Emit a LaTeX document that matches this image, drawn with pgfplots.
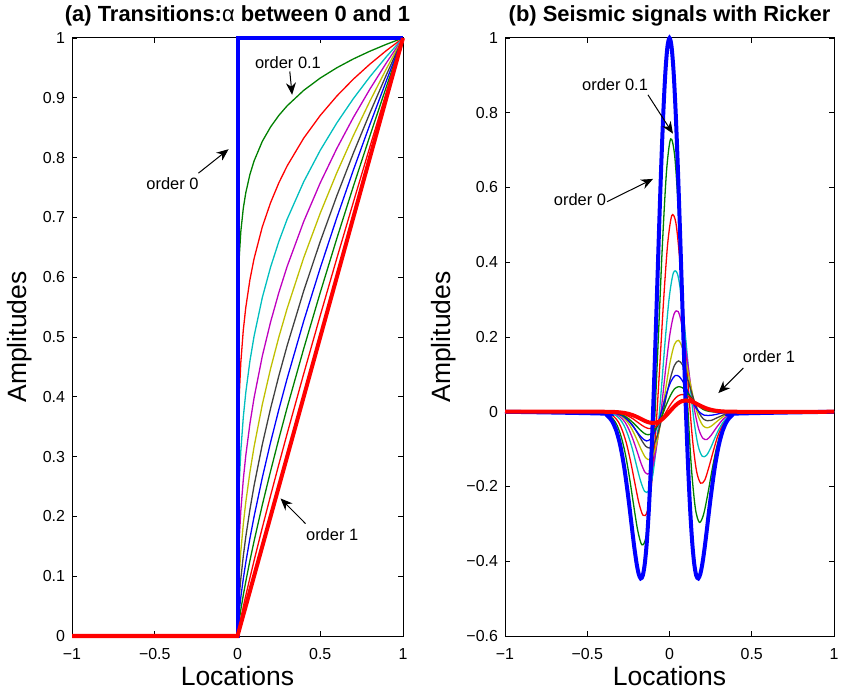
\documentclass[border=0pt]{standalone}
\usepackage{fontspec}
\setmainfont{Liberation Sans}
\usepackage{pgfplots}
\pgfplotsset{compat=1.18}
\usepackage{pgfplotstable}
\usetikzlibrary{arrows.meta}

\definecolor{mb}{rgb}{0,0,1}
\definecolor{mg}{rgb}{0,0.5,0}
\definecolor{mr}{rgb}{1,0,0}
\definecolor{mc}{rgb}{0,0.75,0.75}
\definecolor{mm}{rgb}{0.75,0,0.75}
\definecolor{my}{rgb}{0.75,0.75,0}
\definecolor{mk}{rgb}{0.25,0.25,0.25}

\pgfplotstableread{
x a1 a2 a3 a4 a5 a6 a7 a8 a9
-1 0 0 0 0 0 0 0 0 0
0 0 0 0 0 0 0 0 0 0
0.002 0.5372 0.2886 0.1550 0.0833 0.0447 0.0240 0.0129 0.0069 0.0037
0.005 0.5887 0.3466 0.2040 0.1201 0.0707 0.0416 0.0245 0.0144 0.0085
0.01 0.6310 0.3982 0.2513 0.1586 0.1000 0.0631 0.0398 0.0252 0.0158
0.02 0.6762 0.4573 0.3092 0.2091 0.1414 0.0956 0.0647 0.0437 0.0296
0.035 0.7152 0.5115 0.3658 0.2616 0.1871 0.1338 0.0957 0.0684 0.0489
0.05 0.7411 0.5492 0.4070 0.3016 0.2236 0.1657 0.1228 0.0910 0.0675
0.075 0.7718 0.5957 0.4598 0.3549 0.2739 0.2114 0.1632 0.1260 0.0972
0.1 0.7943 0.6309 0.5011 0.3980 0.3162 0.2512 0.1995 0.1584 0.1259
0.15 0.8272 0.6843 0.5661 0.4683 0.3873 0.3204 0.2650 0.2193 0.1813
0.2 0.8513 0.7247 0.6170 0.5252 0.4472 0.3807 0.3241 0.2758 0.2349
0.25 0.8706 0.7579 0.6598 0.5744 0.5000 0.4353 0.3789 0.3299 0.2872
0.3 0.8866 0.7861 0.6970 0.6180 0.5477 0.4856 0.4306 0.3819 0.3384
0.4 0.9124 0.8325 0.7596 0.6931 0.6325 0.5771 0.5266 0.4804 0.4384
0.5 0.9330 0.8705 0.8122 0.7578 0.7071 0.6597 0.6155 0.5743 0.5359
0.6 0.9502 0.9029 0.8579 0.8152 0.7746 0.7360 0.6994 0.6646 0.6314
0.7 0.9650 0.9312 0.8986 0.8671 0.8367 0.8074 0.7791 0.7519 0.7254
0.8 0.9779 0.9563 0.9352 0.9145 0.8944 0.8746 0.8553 0.8363 0.8181
0.9 0.9895 0.9791 0.9688 0.9586 0.9487 0.9387 0.9289 0.9189 0.9095
1 1 1 1 1 1 1 1 1 1
}\transtable

\tikzset{
  thn/.style={line width=0.65bp},
  thk/.style={line width=2bp},
  ann/.style={font=\fontsize{8.25}{10}\selectfont},
  ttl/.style={font=\bfseries\fontsize{11}{13}\selectfont, anchor=center},
  arr/.style={-{Stealth[length=6bp,width=5bp]}, line width=0.5bp, black},
}
\pgfplotsset{
  mlab/.style={
    scale only axis, height=299bp,
    xmin=-1, xmax=1,
    xtick={-1,-0.5,0,0.5,1},
    xticklabels={−1,−0.5,0,0.5,1},
    tick align=inside,
    major tick length=2.5bp,
    every tick/.style={black, line width=0.4bp},
    axis line style={line width=0.5bp},
    ticklabel style={font=\fontsize{8}{9.6}\selectfont},
    xticklabel style={yshift=-2.8bp},
    xlabel={Locations},
    ylabel={Amplitudes},
    label style={font=\fontsize{13.3}{16}\selectfont},
    xlabel style={at={(axis description cs:0.5,-0.0677)}, anchor=center},
    clip=false,
  },
}

\begin{document}
\begin{tikzpicture}
\path[use as bounding box] (-36bp,-29bp) rectangle (388.5bp,318bp);

% ---------------- (a) ----------------
\begin{axis}[mlab, at={(0,0)}, anchor=south west, width=165.5bp,
  ymin=0, ymax=1,
  ytick={0,0.1,0.2,0.3,0.4,0.5,0.6,0.7,0.8,0.9,1},
  yticklabels={0,0.1,0.2,0.3,0.4,0.5,0.6,0.7,0.8,0.9,1},
  ylabel style={at={(axis description cs:-0.157,0.5)}, anchor=center}]
\addplot[thn, mg] table[x=x, y=a1] {\transtable};
\addplot[thn, mr] table[x=x, y=a2] {\transtable};
\addplot[thn, mc] table[x=x, y=a3] {\transtable};
\addplot[thn, mm] table[x=x, y=a4] {\transtable};
\addplot[thn, my] table[x=x, y=a5] {\transtable};
\addplot[thn, mk] table[x=x, y=a6] {\transtable};
\addplot[thn, mb] table[x=x, y=a7] {\transtable};
\addplot[thn, mg] table[x=x, y=a8] {\transtable};
\addplot[thn, mr] table[x=x, y=a9] {\transtable};
\addplot[thk, mb] coordinates {(-1,0) (0,0) (0,1) (1,1)};
\addplot[thk, mr] coordinates {(-1,0) (0,0) (1,1)};
\node[ttl] at (axis description cs:0.5,1.0368) {(a) Transitions:{\mdseries α} between 0 and 1};
\node[ann] at (axis cs:0.305,0.958) {order 0.1};
\draw[arr] (axis cs:0.316,0.944) -- (axis cs:0.330,0.905);
\node[ann] at (axis cs:-0.393,0.757) {order 0};
\draw[arr] (axis cs:-0.236,0.774) -- (axis cs:-0.054,0.814);
\node[ann] at (axis cs:0.572,0.169) {order 1};
\draw[arr] (axis cs:0.411,0.188) -- (axis cs:0.260,0.230);
\end{axis}

% ---------------- (b) ----------------
\begin{axis}[mlab, at={(216.5bp,0)}, anchor=south west, width=164.5bp,
  ymin=-0.6, ymax=1,
  ytick={-0.6,-0.4,-0.2,0,0.2,0.4,0.6,0.8,1},
  yticklabels={−0.6,−0.4,−0.2,0,0.2,0.4,0.6,0.8,1},
  ylabel style={at={(axis description cs:-0.185,0.5)}, anchor=center}]
% order 0.1
\addplot[thn, mg, smooth] coordinates {(-1,0) (-0.393,-0.004) (-0.368,-0.009) (-0.343,-0.019) (-0.318,-0.037) (-0.293,-0.068) (-0.268,-0.114) (-0.243,-0.177) (-0.218,-0.250) (-0.193,-0.318) (-0.168,-0.356) (-0.143,-0.335) (-0.118,-0.233) (-0.093,-0.048) (-0.068,0.196) (-0.043,0.448) (-0.018,0.644) (0.007,0.730) (0.032,0.683) (0.057,0.518) (0.082,0.286) (0.107,0.048) (0.132,-0.143) (0.157,-0.258) (0.182,-0.296) (0.207,-0.275) (0.232,-0.222) (0.257,-0.160) (0.282,-0.104) (0.307,-0.062) (0.332,-0.034) (0.357,-0.017) (0.382,-0.008) (0.407,-0.004) (1,0)};
% order 0.2
\addplot[thn, mr, smooth] coordinates {(-1,0) (-0.386,-0.003) (-0.361,-0.006) (-0.336,-0.014) (-0.311,-0.027) (-0.286,-0.051) (-0.261,-0.086) (-0.236,-0.134) (-0.211,-0.190) (-0.186,-0.244) (-0.161,-0.277) (-0.136,-0.268) (-0.111,-0.200) (-0.086,-0.069) (-0.061,0.109) (-0.036,0.297) (-0.011,0.450) (0.014,0.525) (0.039,0.505) (0.064,0.398) (0.089,0.238) (0.114,0.069) (0.139,-0.070) (0.164,-0.158) (0.189,-0.191) (0.214,-0.183) (0.239,-0.149) (0.264,-0.109) (0.289,-0.071) (0.314,-0.043) (0.339,-0.024) (0.364,-0.012) (0.389,-0.006) (0.414,-0.002) (1,0)};
% order 0.3
\addplot[thn, mc, smooth] coordinates {(-1,0) (-0.376,-0.002) (-0.351,-0.005) (-0.326,-0.010) (-0.301,-0.020) (-0.276,-0.037) (-0.251,-0.064) (-0.226,-0.099) (-0.201,-0.143) (-0.176,-0.185) (-0.151,-0.213) (-0.126,-0.211) (-0.101,-0.167) (-0.076,-0.075) (-0.051,0.053) (-0.026,0.192) (-0.001,0.308) (0.024,0.372) (0.049,0.368) (0.074,0.301) (0.099,0.193) (0.124,0.075) (0.149,-0.025) (0.174,-0.091) (0.199,-0.119) (0.224,-0.117) (0.249,-0.098) (0.274,-0.072) (0.299,-0.048) (0.324,-0.029) (0.349,-0.016) (0.374,-0.008) (0.399,-0.004) (0.424,-0.002) (1,0)};
% order 0.4
\addplot[thn, mm, smooth] coordinates {(-1,0) (-0.372,-0.001) (-0.347,-0.003) (-0.322,-0.007) (-0.297,-0.015) (-0.272,-0.027) (-0.247,-0.047) (-0.222,-0.074) (-0.197,-0.106) (-0.172,-0.139) (-0.147,-0.163) (-0.122,-0.165) (-0.097,-0.137) (-0.072,-0.074) (-0.047,0.018) (-0.022,0.120) (0.003,0.209) (0.028,0.262) (0.053,0.268) (0.078,0.227) (0.103,0.155) (0.128,0.074) (0.153,0.002) (0.178,-0.047) (0.203,-0.071) (0.228,-0.074) (0.253,-0.063) (0.278,-0.047) (0.303,-0.032) (0.328,-0.019) (0.353,-0.011) (0.378,-0.006) (0.403,-0.003) (0.428,-0.001) (1,0)};
% order 0.5
\addplot[thn, my, smooth] coordinates {(-1,0) (-0.370,-0.001) (-0.345,-0.002) (-0.320,-0.005) (-0.295,-0.011) (-0.270,-0.020) (-0.245,-0.034) (-0.220,-0.054) (-0.195,-0.078) (-0.170,-0.103) (-0.145,-0.123) (-0.120,-0.128) (-0.095,-0.111) (-0.070,-0.068) (-0.045,-0.004) (-0.020,0.070) (0.005,0.136) (0.030,0.180) (0.055,0.191) (0.080,0.169) (0.105,0.123) (0.130,0.068) (0.155,0.018) (0.180,-0.018) (0.205,-0.038) (0.230,-0.043) (0.255,-0.038) (0.280,-0.029) (0.305,-0.020) (0.330,-0.012) (0.355,-0.007) (0.380,-0.004) (0.405,-0.002) (0.430,-0.001) (1,0)};
% order 0.6
\addplot[thn, mk, smooth] coordinates {(-1,0) (-0.370,-0.001) (-0.345,-0.002) (-0.320,-0.004) (-0.295,-0.008) (-0.270,-0.014) (-0.245,-0.025) (-0.220,-0.039) (-0.195,-0.057) (-0.170,-0.076) (-0.145,-0.092) (-0.120,-0.097) (-0.095,-0.087) (-0.070,-0.058) (-0.045,-0.014) (-0.020,0.040) (0.005,0.089) (0.030,0.124) (0.055,0.136) (0.080,0.125) (0.105,0.095) (0.130,0.058) (0.155,0.023) (0.180,-0.003) (0.205,-0.019) (0.230,-0.024) (0.255,-0.023) (0.280,-0.018) (0.305,-0.013) (0.330,-0.008) (0.355,-0.004) (0.380,-0.002) (0.405,-0.001) (0.430,-0.001) (1,0)};
% order 0.7
\addplot[thn, mb, smooth] coordinates {(-1,0) (-0.390,-0.001) (-0.365,-0.001) (-0.340,-0.003) (-0.315,-0.006) (-0.290,-0.010) (-0.265,-0.018) (-0.240,-0.029) (-0.215,-0.043) (-0.190,-0.058) (-0.165,-0.071) (-0.140,-0.078) (-0.115,-0.073) (-0.090,-0.055) (-0.065,-0.024) (-0.040,0.014) (-0.015,0.053) (0.010,0.082) (0.035,0.097) (0.060,0.094) (0.085,0.078) (0.110,0.055) (0.135,0.031) (0.160,0.011) (0.185,-0.002) (0.210,-0.009) (0.235,-0.010) (0.260,-0.009) (0.285,-0.007) (0.310,-0.004) (0.335,-0.003) (0.360,-0.001) (0.385,-0.001) (0.410,0) (1,0)};
% order 0.8
\addplot[thn, mg, smooth] coordinates {(-1,0) (-0.395,0) (-0.370,-0.001) (-0.345,-0.002) (-0.320,-0.004) (-0.295,-0.007) (-0.270,-0.012) (-0.245,-0.020) (-0.220,-0.030) (-0.195,-0.041) (-0.170,-0.052) (-0.145,-0.060) (-0.120,-0.061) (-0.095,-0.053) (-0.070,-0.035) (-0.045,-0.010) (-0.020,0.018) (0.005,0.043) (0.030,0.061) (0.055,0.067) (0.080,0.064) (0.105,0.053) (0.130,0.039) (0.155,0.025) (0.180,0.014) (0.205,0.006) (0.230,0.002) (0.255,0) (0.280,-0.001) (0.305,-0.001) (0.330,-0.001) (0.355,0) (0.405,0) (1,0)};
% order 0.9
\addplot[thn, mr, smooth] coordinates {(-1,0) (-0.400,0) (-0.350,-0.001) (-0.325,-0.002) (-0.300,-0.004) (-0.275,-0.007) (-0.250,-0.012) (-0.225,-0.018) (-0.200,-0.026) (-0.175,-0.034) (-0.150,-0.041) (-0.125,-0.045) (-0.100,-0.044) (-0.075,-0.036) (-0.050,-0.022) (-0.025,-0.004) (0,0.015) (0.025,0.031) (0.050,0.042) (0.075,0.046) (0.100,0.044) (0.125,0.038) (0.150,0.029) (0.175,0.021) (0.200,0.014) (0.225,0.008) (0.250,0.005) (0.275,0.002) (0.300,0.001) (0.350,0) (0.400,0) (1,0)};
% order 0 (Ricker)
\addplot[thk, mb, smooth] coordinates {(-1,0) (-0.4,-0.005) (-0.375,-0.0115) (-0.35,-0.0246) (-0.325,-0.0486) (-0.3,-0.0889) (-0.275,-0.1496) (-0.25,-0.2307) (-0.225,-0.3233) (-0.2125,-0.3677) (-0.2,-0.406) (-0.1875,-0.4338) (-0.175,-0.4461) (-0.1625,-0.4381) (-0.15,-0.4058) (-0.1375,-0.3461) (-0.125,-0.2575) (-0.1125,-0.1411) (-0.1,0) (-0.0875,0.1598) (-0.075,0.3302) (-0.0625,0.5013) (-0.05,0.6619) (-0.0375,0.801) (-0.025,0.9087) (-0.0125,0.9767) (0,1) (0.0125,0.9767) (0.025,0.9087) (0.0375,0.801) (0.05,0.6619) (0.0625,0.5013) (0.075,0.3302) (0.0875,0.1598) (0.1,0) (0.1125,-0.1411) (0.125,-0.2575) (0.1375,-0.3461) (0.15,-0.4058) (0.1625,-0.4381) (0.175,-0.4461) (0.1875,-0.4338) (0.2,-0.406) (0.2125,-0.3677) (0.225,-0.3233) (0.25,-0.2307) (0.275,-0.1496) (0.3,-0.0889) (0.325,-0.0486) (0.35,-0.0246) (0.375,-0.0115) (0.4,-0.005) (1,0)};
% order 1
\addplot[thk, mr, smooth] coordinates {(-1,0) (-0.4,0) (-0.35,-0.0004) (-0.325,-0.0008) (-0.3,-0.0017) (-0.275,-0.0031) (-0.25,-0.0055) (-0.225,-0.0089) (-0.2,-0.0135) (-0.175,-0.0189) (-0.15,-0.0243) (-0.125,-0.0286) (-0.1,-0.0303) (-0.075,-0.0283) (-0.05,-0.0220) (-0.025,-0.0121) (0,0) (0.025,0.0121) (0.05,0.0220) (0.075,0.0283) (0.1,0.0303) (0.125,0.0286) (0.15,0.0243) (0.175,0.0189) (0.2,0.0135) (0.225,0.0089) (0.25,0.0055) (0.275,0.0031) (0.3,0.0017) (0.325,0.0008) (0.35,0.0004) (0.4,0) (1,0)};
\node[ttl] at (axis description cs:0.5,1.0368) {(b) Seismic signals with Ricker};
\node[ann] at (axis cs:-0.331,0.875) {order 0.1};
\draw[arr] (axis cs:-0.131,0.848) -- (axis cs:0.021,0.744);
\node[ann] at (axis cs:-0.544,0.567) {order 0};
\draw[arr] (axis cs:-0.380,0.562) -- (axis cs:-0.100,0.623);
\node[ann] at (axis cs:0.605,0.147) {order 1};
\draw[arr] (axis cs:0.449,0.117) -- (axis cs:0.297,0.050);
\end{axis}
\end{tikzpicture}
\end{document}
